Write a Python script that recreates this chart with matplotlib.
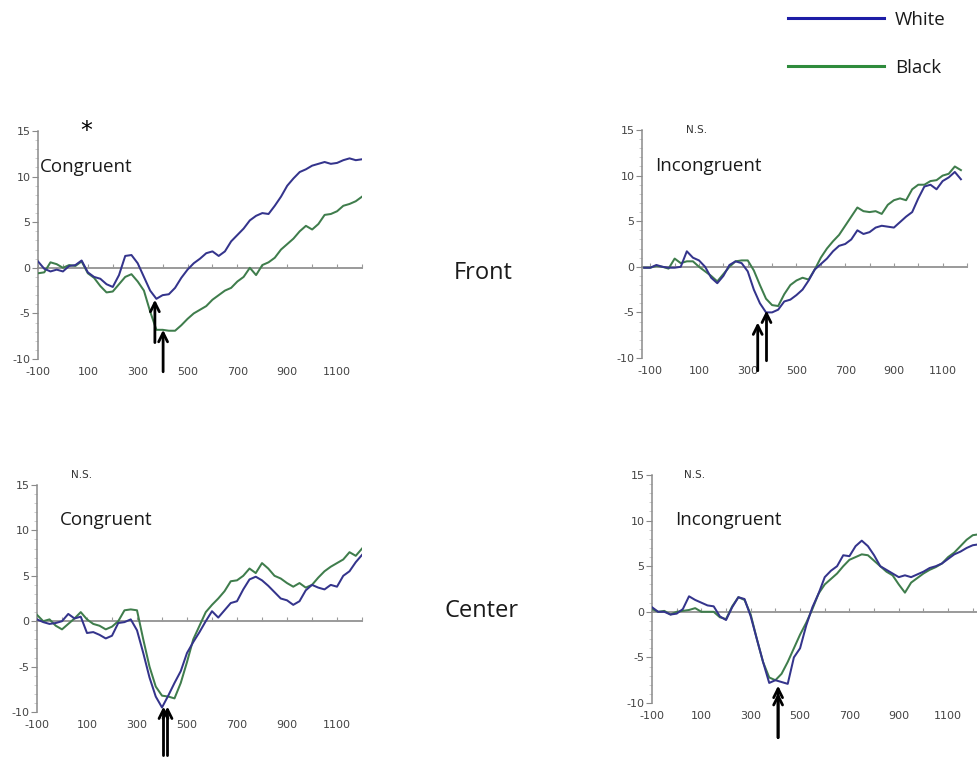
import numpy as np
import matplotlib
matplotlib.use("Agg")
import matplotlib.pyplot as plt
from matplotlib.lines import Line2D
from matplotlib.ticker import MultipleLocator

plt.rcParams["axes.unicode_minus"] = False

W, H = 977, 759

# ---- data (amplitude vs time in ms) ----
x_main = np.arange(-100, 1201, 25)          # panels 1 and 3
x_front_incong = np.arange(-125, 1176, 25)  # panel 2
x_center_incong = np.arange(-100, 1226, 25) # panel 4

front_cong_white = [0.7, -0.1, -0.4, -0.2, -0.4,
                    0.2, 0.3, 0.8, -0.5, -1.0, -1.2, -1.8, -2.1,
                    -0.8, 1.3, 1.4, 0.5, -1.0, -2.5, -3.4, -3.0,
                    -2.9, -2.2, -1.1, -0.2, 0.5, 1.0, 1.6, 1.8,
                    1.3, 1.8, 2.9, 3.6, 4.3, 5.2, 5.7, 6.0,
                    5.9, 6.8, 7.8, 9.0, 9.8, 10.5, 10.8, 11.2,
                    11.4, 11.6, 11.4, 11.5, 11.8, 12.0, 11.8, 11.9]
front_cong_black = [-0.6, -0.5, 0.6, 0.4, 0.0,
                    0.3, 0.2, 0.7, -0.6, -1.1, -2.0, -2.7, -2.6,
                    -1.8, -1.0, -0.7, -1.5, -2.5, -4.8, -6.8, -6.8,
                    -6.9, -6.9, -6.3, -5.6, -5.0, -4.6, -4.2, -3.5,
                    -3.0, -2.5, -2.2, -1.5, -1.0, 0.0, -0.8, 0.3,
                    0.6, 1.1, 2.0, 2.6, 3.2, 4.0, 4.6, 4.2,
                    4.8, 5.8, 5.9, 6.2, 6.8, 7.0, 7.3, 7.8]

front_incong_white = [-0.1, -0.1, 0.2, 0.0, -0.1, -0.1,
                      0.0, 1.7, 1.0, 0.7, 0.0, -1.2, -1.8, -1.0,
                      0.2, 0.6, 0.4, -0.5, -2.5, -4.0, -5.0, -5.0,
                      -4.7, -3.8, -3.6, -3.1, -2.5, -1.5, -0.3, 0.3,
                      0.9, 1.7, 2.3, 2.5, 3.0, 4.0, 3.6, 3.8,
                      4.3, 4.5, 4.4, 4.3, 4.9, 5.5, 6.0, 7.5,
                      8.8, 9.0, 8.5, 9.4, 9.8, 10.4, 9.6]
front_incong_black = [-0.1, -0.1, 0.1, 0.0, -0.2, 0.9,
                      0.4, 0.6, 0.6, 0.0, -0.5, -1.0, -1.6, -0.8,
                      0.0, 0.6, 0.7, 0.7, -0.4, -2.0, -3.5, -4.2,
                      -4.3, -3.0, -2.0, -1.5, -1.2, -1.4, -0.3, 1.0,
                      2.0, 2.8, 3.5, 4.5, 5.5, 6.5, 6.1, 6.0,
                      6.1, 5.8, 6.8, 7.3, 7.5, 7.3, 8.5, 9.0,
                      9.0, 9.4, 9.5, 10.0, 10.2, 11.0, 10.6]

center_cong_white = [0.2, -0.1, -0.3, -0.2, 0.0,
                     0.8, 0.3, 0.5, -1.3, -1.2, -1.5, -1.9, -1.6,
                     -0.2, -0.1, 0.2, -1.0, -3.5, -6.2, -8.3, -9.5,
                     -8.2, -6.8, -5.5, -3.5, -2.3, -1.2, 0.0, 1.1,
                     0.4, 1.2, 2.0, 2.2, 3.5, 4.6, 4.9, 4.5,
                     3.9, 3.2, 2.5, 2.3, 1.8, 2.2, 3.4, 4.0,
                     3.7, 3.5, 4.0, 3.8, 5.0, 5.5, 6.5, 7.3]
center_cong_black = [0.7, 0.0, 0.2, -0.5, -0.9,
                     -0.3, 0.3, 1.0, 0.2, -0.3, -0.5, -0.9, -0.6,
                     0.0, 1.2, 1.3, 1.2, -2.0, -5.0, -7.2, -8.2,
                     -8.3, -8.5, -6.8, -4.5, -2.0, -0.5, 1.0, 1.8,
                     2.5, 3.3, 4.4, 4.5, 5.0, 5.8, 5.3, 6.4,
                     5.8, 5.0, 4.7, 4.2, 3.8, 4.2, 3.7, 4.0,
                     4.8, 5.5, 6.0, 6.4, 6.8, 7.6, 7.2, 8.0]

center_incong_white = [0.5, 0.0, 0.0, -0.3, -0.2,
                       0.3, 1.7, 1.3, 1.0, 0.7, 0.6, -0.5, -0.9,
                       0.5, 1.6, 1.4, -0.5, -3.0, -5.5, -7.8, -7.5,
                       -7.7, -7.9, -5.0, -4.0, -1.5, 0.5, 2.0, 3.8,
                       4.5, 5.0, 6.2, 6.1, 7.2, 7.8, 7.2, 6.2,
                       5.0, 4.6, 4.2, 3.8, 4.0, 3.8, 4.1, 4.4,
                       4.8, 5.0, 5.3, 5.8, 6.3, 6.6, 7.0, 7.3, 7.4]
center_incong_black = [0.3, 0.0, 0.1, -0.3, 0.0,
                       0.1, 0.2, 0.4, 0.0, 0.0, 0.0, -0.6, -0.8,
                       0.6, 1.6, 1.3, -0.3, -3.0, -5.5, -7.2, -7.5,
                       -6.8, -5.5, -4.0, -2.5, -1.2, 0.3, 2.0, 3.0,
                       3.6, 4.2, 5.0, 5.7, 6.0, 6.3, 6.2, 5.6,
                       5.0, 4.4, 4.0, 3.0, 2.1, 3.2, 3.7, 4.2,
                       4.6, 4.9, 5.3, 6.0, 6.5, 7.2, 7.9, 8.4, 8.5]

xtick_vals = [-100, 100, 300, 500, 700, 900, 1100]
ytick_vals = [-10, -5, 0, 5, 10, 15]

# arrows: (x, tip, tail) in data units
arrows_front_cong = [(369, -3.5, -8.2), (402, -6.8, -11.4)]
arrows_front_incong = [(341, -6.1, -11.4), (377, -4.8, -10.3)]
arrows_center_cong = [(406, -9.4, -14.8), (422, -9.4, -14.8)]
arrows_center_incong = [(411, -8.1, -13.8), (411, -8.9, -13.8)]

WHITE_C = "#34348c"
BLACK_C = "#3f7d4c"
LABEL_FONT = ["Open Sans", "DejaVu Sans"]


def fx(px):
    return px / W


def fy(py):
    return 1 - py / H


def rect(l, t, r, b):
    return [fx(l), fy(b), (r - l) / W, (b - t) / H]


def make_panel(fig, box, xlim, x, white, black, arrows):
    ax = fig.add_axes(rect(*box))
    ax.set_xlim(*xlim)
    ax.set_ylim(-10, 15)
    ax.plot(x, black, color=BLACK_C, lw=1.45, zorder=3)
    ax.plot(x, white, color=WHITE_C, lw=1.45, zorder=3)

    for s in ("top", "right"):
        ax.spines[s].set_visible(False)
    ax.spines["left"].set_color("#8a8a8a")
    ax.spines["left"].set_linewidth(1.1)
    ax.spines["bottom"].set_position(("data", 0))
    ax.spines["bottom"].set_color("#9a9a9a")
    ax.spines["bottom"].set_linewidth(1.4)
    ax.spines["bottom"].set_zorder(1)

    ax.set_yticks(ytick_vals)
    ax.yaxis.set_minor_locator(MultipleLocator(1))
    ax.tick_params(axis="y", which="major", length=4, width=0.8, color="#8a8a8a",
                   labelsize=8, labelcolor="#444444", pad=1.5)
    ax.tick_params(axis="y", which="minor", length=2, width=0.5, color="#bbbbbb")

    ax.set_xticks(np.arange(-100, 1201, 100))
    ax.tick_params(axis="x", which="both", direction="in", length=3, width=0.8,
                   color="#9a9a9a", labelbottom=False)

    sec = ax.secondary_xaxis("bottom")
    sec.set_xticks(xtick_vals)
    sec.spines["bottom"].set_visible(False)
    sec.tick_params(length=0, labelsize=8, labelcolor="#444444", pad=6)

    for xa, tip, tail in arrows:
        ax.annotate("", xy=(xa, tip), xytext=(xa, tail),
                    arrowprops=dict(arrowstyle="->", lw=2.0, color="black",
                                    mutation_scale=16, shrinkA=0, shrinkB=0),
                    annotation_clip=False, zorder=5)
    return ax


fig = plt.figure(figsize=(W / 100, H / 100), dpi=100)

make_panel(fig, (38, 131, 362, 359), (-100, 1200), x_main,
           front_cong_white, front_cong_black, arrows_front_cong)
make_panel(fig, (642, 130, 967, 358), (-134, 1175), x_front_incong,
           front_incong_white, front_incong_black, arrows_front_incong)
make_panel(fig, (37, 485, 362, 712), (-100, 1200), x_main,
           center_cong_white, center_cong_black, arrows_center_cong)
make_panel(fig, (652, 475, 977, 703), (-100, 1217), x_center_incong,
           center_incong_white, center_incong_black, arrows_center_incong)

# panel captions
for px, py, txt in [(40, 172, "Congruent"), (655, 171, "Incongruent"),
                    (60, 525, "Congruent"), (675, 525, "Incongruent")]:
    fig.text(fx(px), fy(py), txt, family=LABEL_FONT, fontsize=13.5,
             color="#1a1a1a", va="baseline", ha="left")

for px, py, txt in [(697, 130, "N.S."), (82, 475, "N.S."), (695, 475, "N.S.")]:
    fig.text(fx(px), fy(py), txt, fontsize=7.5, color="#333333",
             ha="center", va="center")
fig.text(fx(86), fy(131), "*", fontsize=17, color="black", ha="center", va="center")

fig.text(fx(483), fy(273), "Front", family=LABEL_FONT, fontsize=17,
         color="#1a1a1a", ha="center", va="center")
fig.text(fx(482), fy(611), "Center", family=LABEL_FONT, fontsize=17,
         color="#1a1a1a", ha="center", va="center")

handles = [Line2D([], [], color="#1d1da6", lw=2.2),
           Line2D([], [], color="#2e8b3c", lw=2.2)]
leg = fig.legend(handles, ["White", "Black"], loc="upper left",
                 bbox_to_anchor=(fx(788), fy(11)), frameon=False,
                 borderpad=0, borderaxespad=0, handlelength=5.1,
                 handletextpad=0.6, labelspacing=1.6,
                 prop={"family": LABEL_FONT, "size": 13.5})
for t in leg.get_texts():
    t.set_color("#1a1a1a")

fig.savefig("out.png", dpi=100)
